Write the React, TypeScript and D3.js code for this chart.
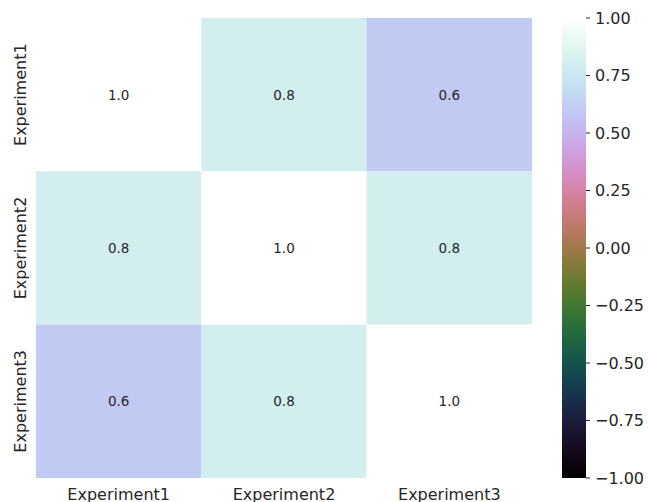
import React from "react";
import * as d3 from "d3";

// Correlation matrix between experiments
const experiments = ["Experiment1", "Experiment2", "Experiment3"];
const row1 = [1.0, 0.8, 0.6];
const row2 = [0.8, 1.0, 0.8];
const row3 = [0.6, 0.8, 1.0];
const matrix = [row1, row2, row3];
const colorbarTicks = [1.0, 0.75, 0.5, 0.25, 0.0, -0.25, -0.5, -0.75, -1.0];

const W = 648;
const H = 502;
const FONT = "DejaVu Sans, sans-serif";

// Matplotlib-style cubehelix (start 0.5, rotations -1.5, hue 1, gamma 1)
function cubehelix(t: number): string {
  const xg = t;
  const a = (1.0 * xg * (1 - xg)) / 2;
  const phi = 2 * Math.PI * (0.5 / 3 + -1.5 * t);
  const c = Math.cos(phi);
  const s = Math.sin(phi);
  const clip = (v: number) => Math.max(0, Math.min(1, v));
  const r = clip(xg + a * (-0.14861 * c + 1.78277 * s));
  const g = clip(xg + a * (-0.29227 * c - 0.90649 * s));
  const b = clip(xg + a * (1.97294 * c));
  return d3.rgb(r * 255, g * 255, b * 255).formatHex();
}

export default function App() {
  const left = 36;
  const right = 532;
  const top = 18;
  const bottom = 478;

  const x = d3.scaleBand<string>().domain(experiments).range([left, right]).padding(0);
  const y = d3.scaleBand<string>().domain(experiments).range([top, bottom]).padding(0);
  const color = d3.scaleSequential((t: number) => cubehelix(t)).domain([-1, 1]);

  const cbLeft = 562;
  const cbRight = 586;
  const cbScale = d3.scaleLinear().domain([-1, 1]).range([bottom, top]);
  const stops = d3.range(0, 1.0001, 1 / 64);

  const cells = matrix.flatMap((row, i) =>
    row.map((v, j) => ({ v, rowName: experiments[i], colName: experiments[j] }))
  );

  return (
    <svg
      width={W}
      height={H}
      style={{ position: "absolute", left: 0, top: 0, background: "#fff" }}
      fontFamily={FONT}
    >
      <defs>
        <linearGradient id="cbar" x1="0" y1="1" x2="0" y2="0">
          {stops.map((t) => (
            <stop key={t} offset={t} stopColor={cubehelix(t)} />
          ))}
        </linearGradient>
      </defs>
      <rect width={W} height={H} fill="#fff" />
      {cells.map((c) => (
        <g key={c.rowName + c.colName}>
          <rect
            x={x(c.colName)}
            y={y(c.rowName)}
            width={x.bandwidth()}
            height={y.bandwidth()}
            fill={color(c.v)}
          />
          <text
            x={(x(c.colName) as number) + x.bandwidth() / 2}
            y={(y(c.rowName) as number) + y.bandwidth() / 2}
            textAnchor="middle"
            dominantBaseline="central"
            fontSize={13.5}
            fill="#262626"
          >
            {d3.format(".1f")(c.v)}
          </text>
        </g>
      ))}
      {experiments.map((e) => (
        <text
          key={"x" + e}
          x={(x(e) as number) + x.bandwidth() / 2}
          y={bottom + 16}
          textAnchor="middle"
          dominantBaseline="central"
          fontSize={16}
          fill="#262626"
        >
          {e}
        </text>
      ))}
      {experiments.map((e) => {
        const cy = (y(e) as number) + y.bandwidth() / 2;
        return (
          <text
            key={"y" + e}
            transform={`translate(20,${cy}) rotate(-90)`}
            textAnchor="middle"
            dominantBaseline="central"
            fontSize={16}
            fill="#262626"
          >
            {e}
          </text>
        );
      })}
      <rect x={cbLeft} y={top} width={cbRight - cbLeft} height={bottom - top} fill="url(#cbar)" />
      {colorbarTicks.map((t) => (
        <g key={"cb" + t} transform={`translate(0,${cbScale(t)})`}>
          <line x1={cbRight} x2={cbRight + 4} stroke="#262626" strokeWidth={1} />
          <text
            x={cbRight + 9}
            y={0}
            dominantBaseline="central"
            fontSize={16}
            fill="#262626"
          >
            {d3.format(".2f")(t).replace("-", "\u2212")}
          </text>
        </g>
      ))}
    </svg>
  );
}
